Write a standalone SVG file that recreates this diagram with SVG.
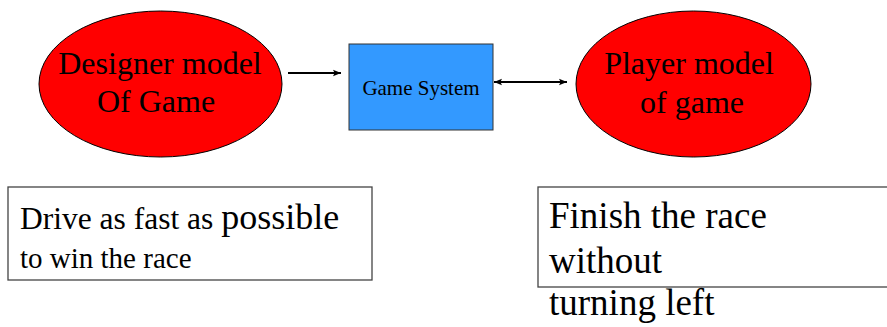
<svg xmlns="http://www.w3.org/2000/svg" width="887" height="327" viewBox="0 0 887 327">
<style>
.t{font-family:"Liberation Serif","Times New Roman",serif;fill:#000}
.ell{fill:#ff0000;stroke:#000;stroke-width:1}
.ln{stroke:#000;stroke-width:2;fill:none}
.box{fill:#fff;stroke:#444;stroke-width:1.3}
</style>
<defs>
<marker id="ah" viewBox="0 0 10 10" refX="10" refY="5" markerWidth="5" markerHeight="4" orient="auto-start-reverse" markerUnits="strokeWidth">
<path d="M0,1 L10,5 L0,9 L2,5 Z" fill="#000"/>
</marker>
</defs>
<rect width="887" height="327" fill="#fff"/>
<g id="designer">
<ellipse class="ell" cx="160.5" cy="84" rx="121.5" ry="73"/>
<text class="t" x="160" y="74" font-size="32" text-anchor="middle">Designer model</text>
<text class="t" x="156" y="112" font-size="32" text-anchor="middle">Of Game</text>
</g>
<g id="system">
<rect x="349" y="44" width="144" height="86" fill="#3399ff" stroke="#333" stroke-width="1"/>
<text class="t" x="421" y="95" font-size="21" text-anchor="middle">Game System</text>
</g>
<g id="player">
<ellipse class="ell" cx="693.5" cy="84" rx="117.5" ry="73"/>
<text class="t" x="689" y="74" font-size="32" text-anchor="middle">Player model</text>
<text class="t" x="692" y="113" font-size="32" text-anchor="middle">of game</text>
</g>
<g id="designer-goal">
<rect class="box" x="8" y="187" width="364" height="93"/>
<text class="t" x="20" y="229" font-size="31.5">Drive as fast as <tspan font-size="36">possible</tspan></text>
<text class="t" x="20" y="268" font-size="29">to win the race</text>
</g>
<g id="player-goal">
<rect class="box" x="538" y="187" width="360" height="100"/>
<text class="t" x="549" y="228" font-size="37">Finish the race</text>
<text class="t" x="549" y="273" font-size="37">without</text>
<text class="t" x="549" y="315" font-size="37">turning left</text>
</g>
<g id="connectors">
<line class="ln" x1="288" y1="73" x2="341" y2="73" marker-end="url(#ah)"/>
<line class="ln" x1="494" y1="82" x2="567" y2="82" marker-start="url(#ah)" marker-end="url(#ah)"/>
</g>
</svg>
